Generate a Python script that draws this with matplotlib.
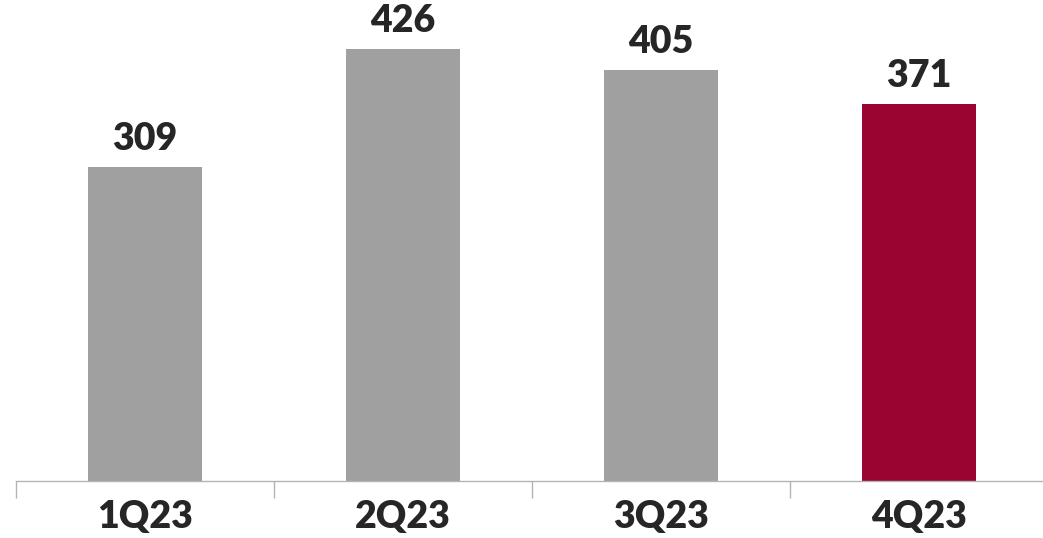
import matplotlib
matplotlib.use("Agg")
import matplotlib.pyplot as plt
import numpy as np

# chart data
quarters = ["1Q23", "2Q23", "3Q23", "4Q23"]
values = [309, 426, 405, 371]
bar_colors = ["#a0a0a0", "#a0a0a0", "#a0a0a0", "#990530"]

plt.rcParams['font.family'] = ['Lato', 'DejaVu Sans']

fig = plt.figure(figsize=(10.43, 5.38), dpi=100)
# axes stretched a bit past the right edge, like the original
ax = fig.add_axes([16 / 1043, 57.5 / 538, 1032 / 1043, 480.5 / 538])

x = np.arange(len(quarters))
bars = ax.bar(x, values, width=0.44, color=bar_colors)

# value labels above the bars
for xi, v in zip(x, values):
    ax.text(xi, v + 11, str(v), ha='center', va='bottom',
            fontsize=27, fontweight='heavy', color='#262626')

ax.set_xlim(-0.5, len(quarters) - 0.5)
ax.set_ylim(0, 474)

# category labels, tick marks only on the boundaries
ax.set_xticks(x)
ax.set_xticklabels(quarters, fontsize=27, fontweight='heavy', color='#262626')
ax.tick_params(axis='x', which='major', length=0, pad=14)
ax.set_xticks(np.arange(-0.5, len(quarters)), minor=True)
ax.tick_params(axis='x', which='minor', length=12, width=1, color='#b4b4b4')

ax.set_yticks([])
for side in ['left', 'right', 'top']:
    ax.spines[side].set_visible(False)
ax.spines['bottom'].set_color('#b4b4b4')
ax.spines['bottom'].set_linewidth(1)

fig.savefig("out.png", dpi=100)
